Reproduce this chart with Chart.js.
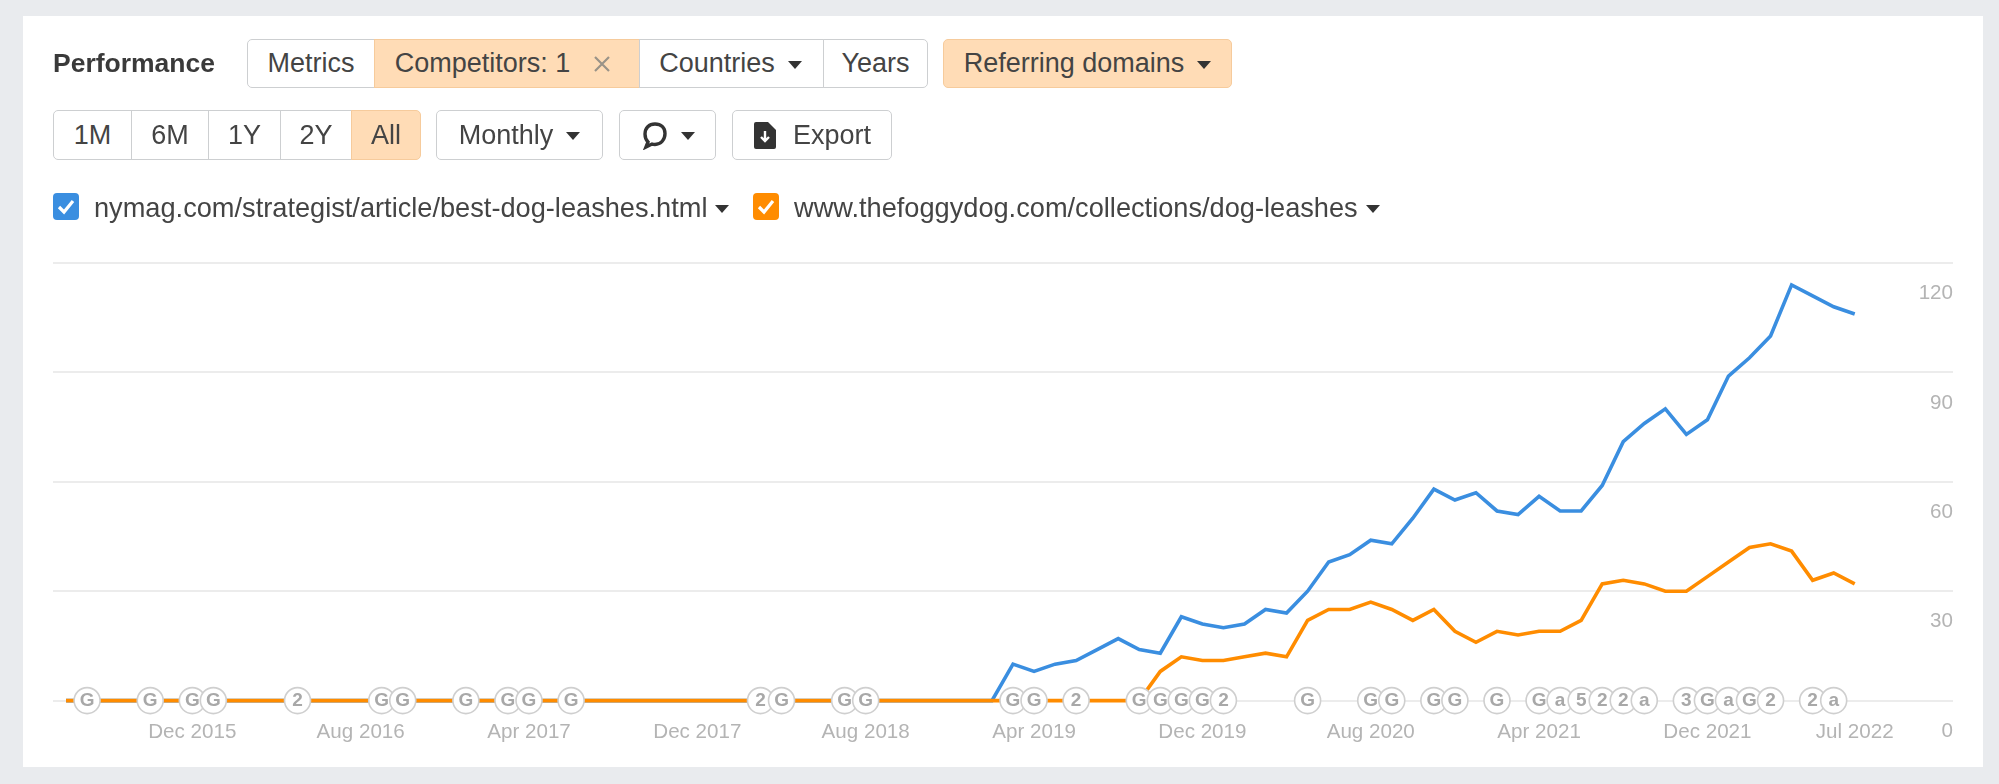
<!DOCTYPE html>
<html><head><meta charset="utf-8">
<script src="https://cdn.jsdelivr.net/npm/chart.js@4"></script>
<style>
html,body{margin:0;padding:0;background:#e9ebee;width:1999px;height:784px;overflow:hidden;font-family:"Liberation Sans",Arial,sans-serif;}
#panel{position:absolute;left:23px;top:16px;width:1960px;height:751px;background:#fff;}
canvas{position:absolute;left:0;top:0;}
.b{position:absolute;box-sizing:border-box;border:1.5px solid #cdcfd1;background:#fff;color:#444;font-size:27px;display:flex;align-items:center;justify-content:center;white-space:nowrap;}
.on{background:#ffdcb6;border-color:#f6cb9c;}
.t{position:absolute;color:#444;font-size:27.2px;white-space:nowrap;line-height:30px;}
.c{display:inline-block;width:0;height:0;border-left:7px solid transparent;border-right:7px solid transparent;border-top:8px solid #333;margin-left:13px;margin-top:2px;}
.t .c{vertical-align:4px;}
.cb{position:absolute;top:193px;width:26px;height:27px;border-radius:4px;}
</style></head><body>
<div id="panel"></div>
<canvas id="chart" width="1999" height="784"></canvas>
<div class="t" style="left:53px;top:48px;font-weight:bold;font-size:26.5px;color:#3a3a3a">Performance</div>
<div class="b" style="left:247px;top:39px;width:128px;height:49px;border-radius:5px 0 0 5px">Metrics</div>
<div class="b on" style="left:374px;top:39px;width:266px;height:49px;padding-right:7px">Competitors: 1<svg width="20" height="20" style="margin-left:22px" viewBox="0 0 20 20"><path d="M3 3L17 17M17 3L3 17" stroke="#9a9388" stroke-width="2.2" fill="none"/></svg></div>
<div class="b" style="left:639px;top:39px;width:185px;height:49px;padding-right:2px">Countries<span class="c"></span></div>
<div class="b" style="left:823px;top:39px;width:105px;height:49px;border-radius:0 5px 5px 0">Years</div>
<div class="b on" style="left:943px;top:39px;width:289px;height:49px;border-radius:5px">Referring domains<span class="c"></span></div>
<div class="b" style="left:53px;top:110px;width:79px;height:50px;border-radius:5px 0 0 5px">1M</div>
<div class="b" style="left:131px;top:110px;width:78px;height:50px">6M</div>
<div class="b" style="left:208px;top:110px;width:73px;height:50px">1Y</div>
<div class="b" style="left:280px;top:110px;width:72px;height:50px">2Y</div>
<div class="b on" style="left:351px;top:110px;width:70px;height:50px;border-radius:0 5px 5px 0">All</div>
<div class="b" style="left:436px;top:110px;width:167px;height:50px;border-radius:5px">Monthly<span class="c"></span></div>
<div class="b" style="left:619px;top:110px;width:97px;height:50px;border-radius:5px"><svg width="28" height="30" viewBox="0 0 28 30"><path d="M14 4C8 4 4 8 4 14c0 3 1 6 3 8l-2 5 6-3c1 .4 2 .5 3 .5 6 0 10-5 10-11S20 4 14 4z" fill="none" stroke="#333" stroke-width="3.4"/></svg><span class="c" style="margin-left:12px"></span></div>
<div class="b" style="left:732px;top:110px;width:160px;height:50px;border-radius:5px"><svg width="24" height="28" style="margin-right:16px" viewBox="0 0 24 28"><path d="M3 1h12l8 8v17a2 2 0 0 1-2 2H3a2 2 0 0 1-2-2V3a2 2 0 0 1 2-2z" fill="#333"/><path d="M12 10v10M8 16l4 4 4-4" stroke="#fff" stroke-width="2.4" fill="none"/></svg>Export</div>
<div class="cb" style="left:53px;background:#3a8ee0"><svg width="26" height="27" viewBox="0 0 26 27"><path d="M6 14l5 5 9-11" stroke="#fff" stroke-width="3.2" fill="none"/></svg></div>
<div class="t" style="left:94px;top:193px">nymag.com/strategist/article/best-dog-leashes.html<span class="c" style="margin-left:8px"></span></div>
<div class="cb" style="left:753px;background:#ff8c00"><svg width="26" height="27" viewBox="0 0 26 27"><path d="M6 14l5 5 9-11" stroke="#fff" stroke-width="3.2" fill="none"/></svg></div>
<div class="t" style="left:794px;top:193px">www.thefoggydog.com/collections/dog-leashes<span class="c" style="margin-left:8px"></span></div>
<script>
const months = ["Jun 2015","Jul 2015","Aug 2015","Sep 2015","Oct 2015","Nov 2015","Dec 2015",
"Jan 2016","Feb 2016","Mar 2016","Apr 2016","May 2016","Jun 2016","Jul 2016","Aug 2016","Sep 2016","Oct 2016","Nov 2016","Dec 2016",
"Jan 2017","Feb 2017","Mar 2017","Apr 2017","May 2017","Jun 2017","Jul 2017","Aug 2017","Sep 2017","Oct 2017","Nov 2017","Dec 2017",
"Jan 2018","Feb 2018","Mar 2018","Apr 2018","May 2018","Jun 2018","Jul 2018","Aug 2018","Sep 2018","Oct 2018","Nov 2018","Dec 2018",
"Jan 2019","Feb 2019","Mar 2019","Apr 2019","May 2019","Jun 2019","Jul 2019","Aug 2019","Sep 2019","Oct 2019","Nov 2019","Dec 2019",
"Jan 2020","Feb 2020","Mar 2020","Apr 2020","May 2020","Jun 2020","Jul 2020","Aug 2020","Sep 2020","Oct 2020","Nov 2020","Dec 2020",
"Jan 2021","Feb 2021","Mar 2021","Apr 2021","May 2021","Jun 2021","Jul 2021","Aug 2021","Sep 2021","Oct 2021","Nov 2021","Dec 2021",
"Jan 2022","Feb 2022","Mar 2022","Apr 2022","May 2022","Jun 2022","Jul 2022"];
const nymag = [0,0,0,0,0,0,0,0,0,0,0,0,0,0,0,0,0,0,0,0,0,0,0,0,0,0,0,0,0,0,0,0,0,0,0,0,0,0,0,0,0,0,0,0,0,
10,8,10,11,14,17,14,13,23,21,20,21,25,24,30,38,40,44,43,50,58,55,57,52,51,56,52,52,59,71,76,80,73,77,89,94,100,114,111,108,106];
const foggydog = [0,0,0,0,0,0,0,0,0,0,0,0,0,0,0,0,0,0,0,0,0,0,0,0,0,0,0,0,0,0,0,0,0,0,0,0,0,0,0,0,0,0,0,0,0,0,0,0,0,0,0,0,
8,12,11,11,12,13,12,22,25,25,27,25,22,25,19,16,19,18,19,19,22,32,33,32,30,30,34,38,42,43,41,33,35,32];
const xTickLabels = ["Dec 2015","Aug 2016","Apr 2017","Dec 2017","Aug 2018","Apr 2019","Dec 2019","Aug 2020","Apr 2021","Dec 2021","Jul 2022"];
const yTicks = [0,30,60,90,120];
const markerMonths = ["Jul 2015","Oct 2015","Dec 2015","Jan 2016","May 2016","Sep 2016","Oct 2016","Jan 2017","Mar 2017","Apr 2017","Jun 2017",
"Mar 2018","Apr 2018","Jul 2018","Aug 2018","Mar 2019","Apr 2019","Jun 2019","Sep 2019","Oct 2019","Nov 2019","Dec 2019","Jan 2020",
"May 2020","Aug 2020","Sep 2020","Nov 2020","Dec 2020","Feb 2021","Apr 2021","May 2021","Jun 2021","Jul 2021","Aug 2021","Sep 2021",
"Nov 2021","Dec 2021","Jan 2022","Feb 2022","Mar 2022","May 2022","Jun 2022"];
const markerLabels = ["G","G","G","G","2","G","G","G","G","G","G","2","G","G","G","G","G","2","G","G","G","G","2",
"G","G","G","G","G","G","G","a","5","2","2","a","3","G","a","G","2","2","a"];

const badgeText = {
  id:'badgeText',
  afterDatasetsDraw(chart){
    const ctx = chart.ctx, meta = chart.getDatasetMeta(0);
    ctx.save();
    ctx.fillStyle = '#a8a8a8';
    ctx.font = 'bold 19px "Liberation Sans"';
    ctx.textAlign = 'center'; ctx.textBaseline = 'middle';
    meta.data.forEach((p,i)=>ctx.fillText(markerLabels[i], p.x, p.y+0.5));
    ctx.restore();
  }
};
new Chart(document.getElementById('chart'),{
  type:'line',
  data:{datasets:[
    {label:'Annotations',data:markerMonths.map(m=>({x:months.indexOf(m),y:0})),showLine:false,clip:false,
     pointRadius:13,pointHoverRadius:13,pointBackgroundColor:'#fff',pointBorderColor:'#cfcfcf',pointBorderWidth:1.6},
    {label:'www.thefoggydog.com/collections/dog-leashes',data:foggydog.map((y,x)=>({x,y})),borderColor:'#ff8c00',borderWidth:3.6,pointRadius:0,tension:0,clip:false},
    {label:'nymag.com/strategist/article/best-dog-leashes.html',data:nymag.map((y,x)=>({x,y})),borderColor:'#3a8ee0',borderWidth:3.6,pointRadius:0,tension:0,clip:false}
  ]},
  plugins:[badgeText],
  options:{
    responsive:false,animation:false,
    layout:{padding:{left:53,right:46,top:263,bottom:0}},
    plugins:{legend:{display:false},tooltip:{enabled:false}},
    scales:{
      x:{type:'linear',min:-0.62,max:89.67,
        afterBuildTicks:s=>{s.ticks=xTickLabels.map(l=>({value:months.indexOf(l)}));},
        afterFit:s=>{s.height=83.4;},
        grid:{display:false},border:{display:false},
        ticks:{autoSkip:false,maxRotation:0,minRotation:0,padding:11,color:'#b4b4b4',font:{family:'"Liberation Sans"',size:20.6},callback:v=>months[v]}},
      y:{position:'right',min:0,max:120,
        afterBuildTicks:s=>{s.ticks=yTicks.map(v=>({value:v}));},
        afterFit:s=>{s.width=0;},
        grid:{color:'#ececec',lineWidth:2,drawTicks:false},border:{display:false},
        ticks:{mirror:true,padding:0,labelOffset:30.5,color:'#b4b4b4',font:{family:'"Liberation Sans"',size:20.6}}}
    }
  }
});
</script>
</body></html>
